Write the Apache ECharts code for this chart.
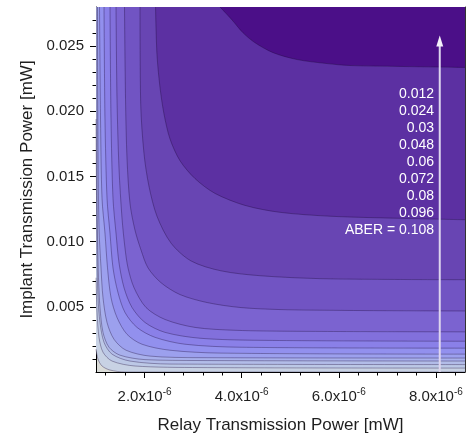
<!DOCTYPE html>
<html><head><meta charset="utf-8">
<script src="https://cdn.jsdelivr.net/npm/echarts@6/dist/echarts.min.js"></script>
<style>html,body{margin:0;padding:0;background:#fff}#c{width:466px;height:439px}</style>
</head><body><div id="c"></div>
<script>
// Relay power values in units of 1e-6 mW, implant power in mW
const X_UNIT = 1e-6;
const c1X = [3.554, 3.801, 4.028, 4.275, 4.646, 5.140, 5.758, 6.232, 7.262, 8.6];
const c1Y = [0.0280, 0.02701, 0.02602, 0.02526, 0.0245, 0.02397, 0.02366, 0.02351, 0.02344, 0.02336];
const c2X = [2.226, 2.256, 2.318, 2.401, 2.524, 2.730, 3.039, 3.451, 4.069, 4.790, 5.820, 7.262, 8.6];
const c2Y = [0.0280, 0.02435, 0.02184, 0.01978, 0.01788, 0.01621, 0.01484, 0.0137, 0.01278, 0.01225, 0.01195, 0.01179, 0.01168];
const c3X = [1.906, 1.921, 1.989, 2.092, 2.256, 2.545, 2.957, 3.575, 4.399, 5.758, 8.6];
const c3Y = [0.0280, 0.02054, 0.01674, 0.01423, 0.01195, 0.00989, 0.00852, 0.00776, 0.00738, 0.00715, 0.00708];
const c4X = [1.587, 1.608, 1.639, 1.700, 1.803, 1.927, 2.071, 2.339, 2.730, 3.286, 3.966, 4.790, 6.232, 8.6];
const c4Y = [0.0280, 0.02092, 0.01636, 0.01294, 0.01088, 0.00936, 0.00799, 0.00685, 0.00594, 0.00533, 0.00495, 0.00479, 0.00472, 0.00468];
const c5X = [1.412, 1.433, 1.474, 1.536, 1.597, 1.659, 1.783, 2.030, 2.421, 3.039, 3.863, 5.202, 8.6];
const c5Y = [0.0280, 0.02092, 0.0156, 0.01179, 0.00951, 0.00799, 0.00647, 0.00495, 0.00403, 0.00342, 0.0032, 0.00312, 0.00308];
const c6X = [1.288, 1.309, 1.350, 1.412, 1.474, 1.577, 1.742, 2.009, 2.421, 3.142, 4.378, 8.6];
const c6Y = [0.0280, 0.0194, 0.01332, 0.01065, 0.00837, 0.00647, 0.00495, 0.0038, 0.00304, 0.00259, 0.00243, 0.00236];
const c7X = [1.165, 1.185, 1.227, 1.288, 1.350, 1.453, 1.597, 1.845, 2.215, 2.833, 3.966, 8.6];
const c7Y = [0.0280, 0.0194, 0.01332, 0.01065, 0.00799, 0.00609, 0.00457, 0.00342, 0.00266, 0.00213, 0.0019, 0.00183];
const c8X = [1.072, 1.093, 1.124, 1.185, 1.237, 1.309, 1.433, 1.639, 1.947, 2.524, 3.554, 8.6];
const c8Y = [0.0280, 0.0194, 0.01332, 0.01065, 0.00799, 0.00571, 0.00418, 0.00289, 0.00213, 0.00167, 0.00145, 0.00137];
const c9X = [1.031, 1.041, 1.062, 1.103, 1.144, 1.227, 1.371, 1.618, 2.112, 3.142, 8.6];
const c9Y = [0.0280, 0.01712, 0.01103, 0.00799, 0.00571, 0.0038, 0.00251, 0.00167, 0.00122, 0.0011, 0.00107];
const c10X = [1.016, 1.021, 1.031, 1.051, 1.082, 1.144, 1.268, 1.494, 2.009, 3.142, 8.6];
const c10Y = [0.0280, 0.01332, 0.01027, 0.00723, 0.00495, 0.00304, 0.0019, 0.00129, 0.00095, 0.00088, 0.00084];
const c11X = [1.0, 1.021, 1.041, 1.082, 1.165, 1.330, 1.700, 2.524, 8.6];
const c11Y = [0.0194, 0.00875, 0.00571, 0.0038, 0.00228, 0.00137, 0.00084, 0.00061, 0.00057];
const c12X = [1.0, 1.021, 1.062, 1.144, 1.330, 1.803, 3.142, 8.6];
const c12Y = [0.00723, 0.00457, 0.00266, 0.00152, 0.00084, 0.00046, 0.00034, 0.0003];
const c13X = [1.0, 1.041, 1.124, 1.288, 1.597, 8.6];
const c13Y = [0.00175, 0.00099, 0.00046, 0.00015, 0, 0];

// Band colours: fill above contour 1..13, last = lowest band (corner)
const bandColors = ['#4b0f88','#5c30a2','#6845b3','#7154c3','#7b63d0','#8270dc','#8a80e8','#9290ee','#9ca0ee','#a8b0ec','#b2bce8','#bcc8e6','#c8d2e4','#dadcd8'];

const xMajor = [2, 4, 6, 8];
const xMinor = [1.2, 1.6, 2.4, 2.8, 3.2, 3.6, 4.4, 4.8, 5.2, 5.6, 6.4, 6.8, 7.2, 7.6, 8.4];
const yMajor = [0.005, 0.010, 0.015, 0.020, 0.025];
const yMinor = [0.001,0.002,0.003,0.004,0.006,0.007,0.008,0.009,0.011,0.012,0.013,0.014,0.016,0.017,0.018,0.019,0.021,0.022,0.023,0.024,0.026,0.027];
const legendLabels = ['0.012','0.024','0.03','0.048','0.06','0.072','0.08','0.096','ABER = 0.108'];
const arrowX = 8.08;
const arrowY = [0, 0.0254];

const contours = [
  [c1X,c1Y],[c2X,c2Y],[c3X,c3Y],[c4X,c4Y],[c5X,c5Y],[c6X,c6Y],[c7X,c7Y],
  [c8X,c8Y],[c9X,c9Y],[c10X,c10Y],[c11X,c11Y],[c12X,c12Y],[c13X,c13Y]
];

const FONT = "'Liberation Sans', Arial, sans-serif";
const series = [];
for (let i = contours.length - 1; i >= 0; i--) {
  const [xs, ys] = contours[i];
  series.push({
    type: 'line', xAxisIndex: 0, yAxisIndex: 0,
    data: xs.map((v, k) => [v * X_UNIT, ys[k]]),
    symbol: 'none', smooth: 0.3, silent: true,
    lineStyle: { color: 'rgba(30,10,60,0.45)', width: 0.8 },
    areaStyle: { origin: 'end', color: bandColors[i], opacity: 1 },
    z: 2
  });
}
series.push({
  type: 'line', xAxisIndex: 0, yAxisIndex: 0, silent: true, z: 5,
  data: [
    { value: [arrowX * X_UNIT, arrowY[0]], symbol: 'none' },
    { value: [arrowX * X_UNIT, arrowY[1]], symbol: 'triangle', symbolSize: [7, 11] }
  ],
  lineStyle: { color: '#ddd5ee', width: 2 },
  itemStyle: { color: '#f4f0fa' }
});

const chart = echarts.init(document.getElementById('c'), null, { renderer: 'canvas' });
chart.setOption({
  animation: false,
  backgroundColor: '#ffffff',
  grid: { left: 96, right: 1, top: 7, bottom: 64, show: true, backgroundColor: bandColors[13], borderWidth: 0 },
  xAxis: [
    {
      type: 'value', min: 1 * X_UNIT, max: 8.6 * X_UNIT, position: 'bottom',
      axisLine: { show: true, onZero: false, lineStyle: { color: '#000', width: 1 } },
      axisTick: { show: true, customValues: xMajor.map(v => v * X_UNIT), length: 6, lineStyle: { color: '#000' } },
      axisLabel: {
        customValues: xMajor.map(v => v * X_UNIT), margin: 15, color: '#1e1e1e',
        formatter: v => '{a|' + (v / X_UNIT).toFixed(1) + 'x10}{s|-6}',
        rich: { a: { fontSize: 15, fontFamily: FONT, color: '#1e1e1e' }, s: { fontSize: 10, fontFamily: FONT, color: '#1e1e1e', padding: [0, 0, 9, 0] } }
      },
      splitLine: { show: false },
      name: 'Relay Transmission Power [mW]', nameLocation: 'middle', nameGap: 45,
      nameTextStyle: { fontSize: 17, fontFamily: FONT, color: '#1e1e1e' }
    },
    {
      type: 'value', min: 1 * X_UNIT, max: 8.6 * X_UNIT, position: 'bottom',
      axisLine: { show: false, onZero: false },
      axisTick: { show: true, customValues: xMinor.map(v => v * X_UNIT), length: 3.5, lineStyle: { color: '#000' } },
      axisLabel: { show: false }, splitLine: { show: false }
    }
  ],
  yAxis: [
    {
      type: 'value', min: 0, max: 0.028, position: 'left',
      axisLine: { show: true, onZero: false, lineStyle: { color: '#000', width: 1 } },
      axisTick: { show: true, customValues: yMajor, length: 6, lineStyle: { color: '#000' } },
      axisLabel: { customValues: yMajor, margin: 12, fontSize: 15, fontFamily: FONT, color: '#1e1e1e', formatter: v => v.toFixed(3) },
      splitLine: { show: false },
      name: 'Implant Transmission Power [mW]', nameLocation: 'middle', nameGap: 59,
      nameTextStyle: { fontSize: 17, fontFamily: FONT, color: '#1e1e1e' }
    },
    {
      type: 'value', min: 0, max: 0.028, position: 'left',
      axisLine: { show: false, onZero: false },
      axisTick: { show: true, customValues: yMinor, length: 3.5, lineStyle: { color: '#000' } },
      axisLabel: { show: false }, splitLine: { show: false }
    },
    {
      type: 'value', min: 0, max: 0.028, position: 'right',
      axisLine: { show: true, onZero: false, lineStyle: { color: '#333', width: 1 } },
      axisTick: { show: true, inside: true, customValues: yMajor.concat(yMinor), length: 3, lineStyle: { color: '#333' } },
      axisLabel: { show: false }, splitLine: { show: false }
    }
  ],
  graphic: [{
    type: 'text', x: 434, y: 86, silent: true, z: 10,
    style: {
      text: legendLabels.join('\n'), align: 'right', verticalAlign: 'top',
      fontSize: 14, fontFamily: FONT, fill: '#ffffff', lineHeight: 17
    }
  }],
  series: series
});
</script></body></html>
